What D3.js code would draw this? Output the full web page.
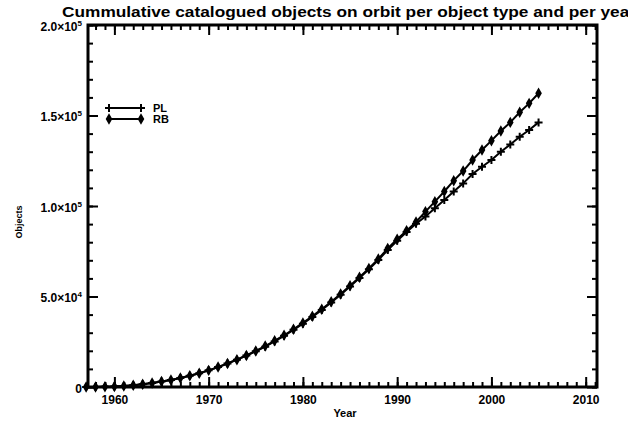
<!DOCTYPE html>
<html>
<head>
<meta charset="utf-8">
<script src="https://cdn.jsdelivr.net/npm/d3@7"></script>
<style>
  body { margin: 0; background: #fff; }
  text { font-family: "Liberation Sans", Arial, sans-serif; font-weight: bold; fill: #000; }
</style>
</head>
<body>
<div id="chart"></div>
<script>
// data (cumulative objects, thousands)
const years = d3.range(1957, 2006);
const plValues = [0, 0.05, 0.15, 0.3, 0.6, 1.0, 1.5, 2.2, 3.0, 3.9, 5.0, 6.2, 7.6, 9.2, 11.0, 13.0, 15.1, 17.4, 19.7, 22.3, 25.2, 28.3, 31.6, 35.0, 38.7, 42.6, 46.7, 51.0, 55.5, 60.2, 65.0, 70.2, 75.7,
  80.8, 85.6, 90.2, 94.2, 98.7, 103.3, 108.0, 112.5, 117.7, 121.7, 125.4, 130.0, 134.0, 138.3, 142.0, 146.2];
const rbValues = [0, 0.05, 0.15, 0.3, 0.6, 1.0, 1.5, 2.2, 3.0, 3.9, 5.0, 6.2, 7.6, 9.2, 11.0, 13.0, 15.1, 17.4, 19.9, 22.6, 25.5, 28.6, 31.9, 35.4, 39.1, 43.0, 47.1, 51.4, 55.9, 60.6, 65.5, 70.7, 76.6,
  81.6, 86.4, 91.2, 96.9, 102.4, 108.0, 114.0, 119.3, 125.4, 130.9, 136.1, 141.4, 146.2, 151.8, 156.7, 162.3];
const seriesNames = ["PL", "RB"];
const xTicks = [1960, 1970, 1980, 1990, 2000, 2010];
const yTicks = [0, 50000, 100000, 150000, 200000];
const yTickLabels = [["0", ""], ["5.0×10", "4"], ["1.0×10", "5"], ["1.5×10", "5"], ["2.0×10", "5"]];

const W = 628, H = 426;
const margin = { top: 25, right: 31, bottom: 39, left: 88 },
    width = W - margin.left - margin.right,
    height = H - margin.top - margin.bottom;

const svg = d3.select("#chart")
    .append("svg")
    .attr("width", W)
    .attr("height", H);

const g = svg.append("g")
    .attr("transform", `translate(${margin.left},${margin.top})`);

const x = d3.scaleLinear().domain([1957.2, 2011.2]).range([0, width]);
const y = d3.scaleLinear().domain([0, 200000]).range([height, 0]);

// minor ticks
g.append("g").attr("transform", `translate(0,${height})`)
    .call(d3.axisBottom(x).tickValues(d3.range(1958, 2012)).tickSize(-5).tickFormat(""));
g.append("g")
    .call(d3.axisTop(x).tickValues(d3.range(1958, 2012)).tickSize(-5).tickFormat(""));
g.append("g")
    .call(d3.axisLeft(y).tickValues(d3.range(0, 200001, 10000)).tickSize(-5).tickFormat(""));
g.append("g").attr("transform", `translate(${width},0)`)
    .call(d3.axisRight(y).tickValues(d3.range(0, 200001, 10000)).tickSize(-5).tickFormat(""));

// major ticks
const xAxis = g.append("g").attr("transform", `translate(0,${height})`)
    .call(d3.axisBottom(x).tickValues(xTicks).tickSize(-10).tickPadding(8).tickFormat(d3.format("d")));
g.append("g")
    .call(d3.axisTop(x).tickValues(xTicks).tickSize(-10).tickFormat(""));
const yAxis = g.append("g")
    .call(d3.axisLeft(y).tickValues(yTicks).tickSize(-10).tickPadding(6));
g.append("g").attr("transform", `translate(${width},0)`)
    .call(d3.axisRight(y).tickValues(yTicks).tickSize(-10).tickFormat(""));

g.selectAll(".domain").remove();
g.selectAll(".tick line").attr("stroke", "#000").attr("stroke-width", 2);

// frame
g.append("rect").attr("width", width).attr("height", height)
    .attr("fill", "none").attr("stroke", "#000").attr("stroke-width", 3);

xAxis.selectAll("text").attr("font-size", 12);
yAxis.selectAll("text")
    .attr("font-size", 12)
    .attr("dy", "0.45em")
    .each(function (d) {
        const t = d3.select(this);
        const lab = yTickLabels[yTicks.indexOf(d)];
        t.text(null);
        t.append("tspan").text(lab[0]);
        if (lab[1]) t.append("tspan").attr("dy", -5).attr("font-size", 8).text(lab[1]);
    });

// axis titles
svg.append("text").attr("x", 345).attr("y", 417).attr("text-anchor", "middle")
    .attr("font-size", 11).text("Year");
svg.append("text").attr("transform", "translate(22,222) rotate(-90)").attr("text-anchor", "middle")
    .attr("font-size", 9).text("Objects");

// title
svg.append("text").attr("x", 62).attr("y", 17).attr("font-size", 14)
    .attr("textLength", 574).attr("lengthAdjust", "spacingAndGlyphs")
    .text("Cummulative catalogued objects on orbit per object type and per year");

// series
const plData = years.map((yr, i) => ({ yr: yr, v: plValues[i] * 1000 }));
const rbData = years.map((yr, i) => ({ yr: yr, v: rbValues[i] * 1000 }));

const line = d3.line().x(d => x(d.yr)).y(d => y(d.v));

const plusPath = "M-4,0H4M0,-4V4";
const diamond = d3.symbol().type(d3.symbolDiamond).size(16);

function drawSeries(data, kind) {
    g.append("path").datum(data)
        .attr("fill", "none").attr("stroke", "#000").attr("stroke-width", 2)
        .attr("d", line);
    const pts = g.append("g").selectAll("path.pt").data(data).join("path")
        .attr("transform", d => `translate(${x(d.yr)},${y(d.v)})`);
    if (kind === "plus") pts.attr("d", plusPath).attr("stroke", "#000").attr("stroke-width", 2).attr("fill", "none");
    else pts.attr("d", diamond).attr("fill", "#000").attr("stroke", "#000").attr("stroke-width", 2);
}

drawSeries(rbData, "diamond");
drawSeries(plData, "plus");

// legend
const legend = svg.append("g");
const legY = [108, 119];
seriesNames.forEach((name, i) => {
    const row = legend.append("g").attr("transform", `translate(0,${legY[i]})`);
    row.append("line").attr("x1", 109).attr("x2", 141).attr("stroke", "#000").attr("stroke-width", 2);
    [109, 141].forEach(px => {
        const s = row.append("path").attr("transform", `translate(${px},0)`);
        if (i === 0) s.attr("d", plusPath).attr("stroke", "#000").attr("stroke-width", 2).attr("fill", "none");
        else s.attr("d", diamond).attr("fill", "#000").attr("stroke", "#000").attr("stroke-width", 2);
    });
    row.append("text").attr("x", 153).attr("y", 4).attr("font-size", 11).text(name);
});
</script>
</body>
</html>
